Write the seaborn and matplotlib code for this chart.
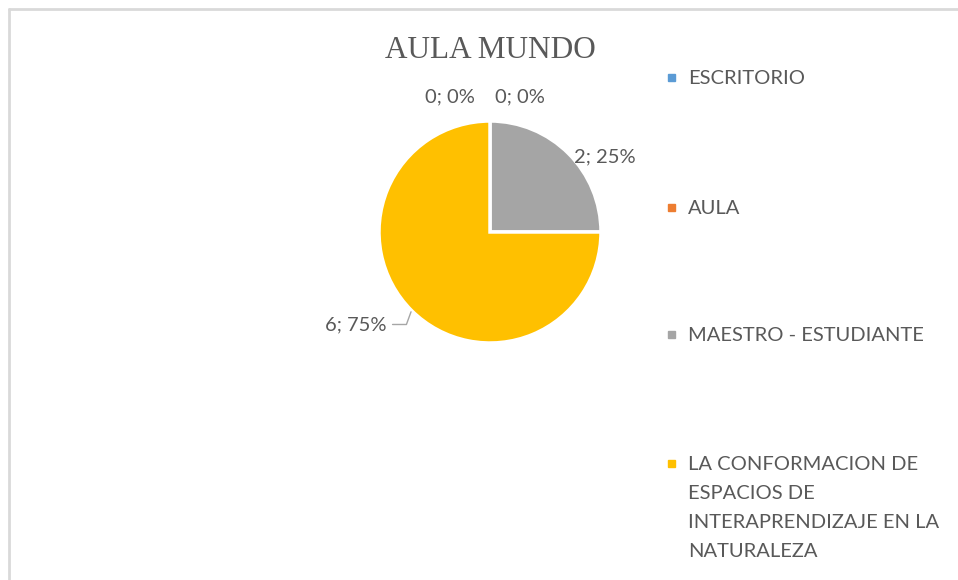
import numpy as np
import matplotlib
matplotlib.use('Agg')
import matplotlib.pyplot as plt
import seaborn as sns
from matplotlib.lines import Line2D
from matplotlib.patches import Rectangle

# data
categories = ['ESCRITORIO', 'AULA', 'MAESTRO - ESTUDIANTE',
              'LA CONFORMACION DE\nESPACIOS DE\nINTERAPRENDIZAJE EN LA\nNATURALEZA']
values = [0, 0, 2, 6]
title = 'AULA MUNDO'

sns.set_theme(style='white')
plt.rcParams['font.family'] = ['Lato', 'DejaVu Sans']
colors = ['#5B9BD5', '#ED7D31', '#A5A5A5', '#FFC000']
text_color = '#595959'

W, H = 958, 580
fig = plt.figure(figsize=(W / 100, H / 100), dpi=100)

# pie axes: centre (490, 232) px, radius 111 px
cx, cy, r = 490, 232, 111
ax = fig.add_axes([(cx - r) / W, (H - cy - r) / H, 2 * r / W, 2 * r / H])
wedges, _ = ax.pie(values, colors=colors, startangle=90, counterclock=False,
                   wedgeprops=dict(edgecolor='white', linewidth=2.5))
ax.set_xlim(-1, 1)
ax.set_ylim(-1, 1)
ax.set_aspect('equal')
ax.axis('off')

total = sum(values)
fs = 14.5
# offsets (pixels) for each data label relative to wedge edge midpoint
offsets = [(-40, 24, 'center'), (30, 24, 'center'), (6, -3, 'left'), (-25, -14, 'right')]
for w, v, (dx, dy, ha) in zip(wedges, values, offsets):
    ang = np.deg2rad((w.theta1 + w.theta2) / 2)
    xy = (np.cos(ang), np.sin(ang))
    lbl = f'{v}; {v / total * 100:.0f}%'
    if ha == 'right':
        ax.annotate(lbl, xy=xy, xytext=(dx, dy), textcoords='offset pixels',
                    ha=ha, va='center', fontsize=fs, color=text_color,
                    arrowprops=dict(arrowstyle='-', color='#A6A6A6', lw=1,
                                    shrinkA=2, shrinkB=1,
                                    connectionstyle='angle,angleA=0,angleB=70,rad=0'),
                    annotation_clip=False)
    else:
        ax.annotate(lbl, xy=xy, xytext=(dx, dy), textcoords='offset pixels',
                    ha=ha, va='center', fontsize=fs, color=text_color,
                    annotation_clip=False)

# title
fig.text(490 / W, 1 - 50 / H, title, ha='center', va='center',
         fontsize=22.5, color=text_color, family='Liberation Serif')

# legend drawn on the right
leg_y = [77, 207, 334, 463]
for c, lab, yy in zip(colors, categories, leg_y):
    fig.patches.append(Rectangle((668 / W, 1 - (yy + 4) / H), 7 / W, 7 / H,
                                 transform=fig.transFigure, color=c))
    fig.text(688 / W, 1 - (yy - 7) / H, lab, ha='left', va='top',
             fontsize=fs, color=text_color, linespacing=1.86)

# chart border (top and left visible)
fig.add_artist(Line2D([9 / W, 1], [1 - 9 / H, 1 - 9 / H], color='#D9D9D9', lw=2,
                      transform=fig.transFigure))
fig.add_artist(Line2D([9 / W, 9 / W], [0, 1 - 9 / H], color='#D9D9D9', lw=2,
                      transform=fig.transFigure))

fig.savefig('out.png', dpi=100)
